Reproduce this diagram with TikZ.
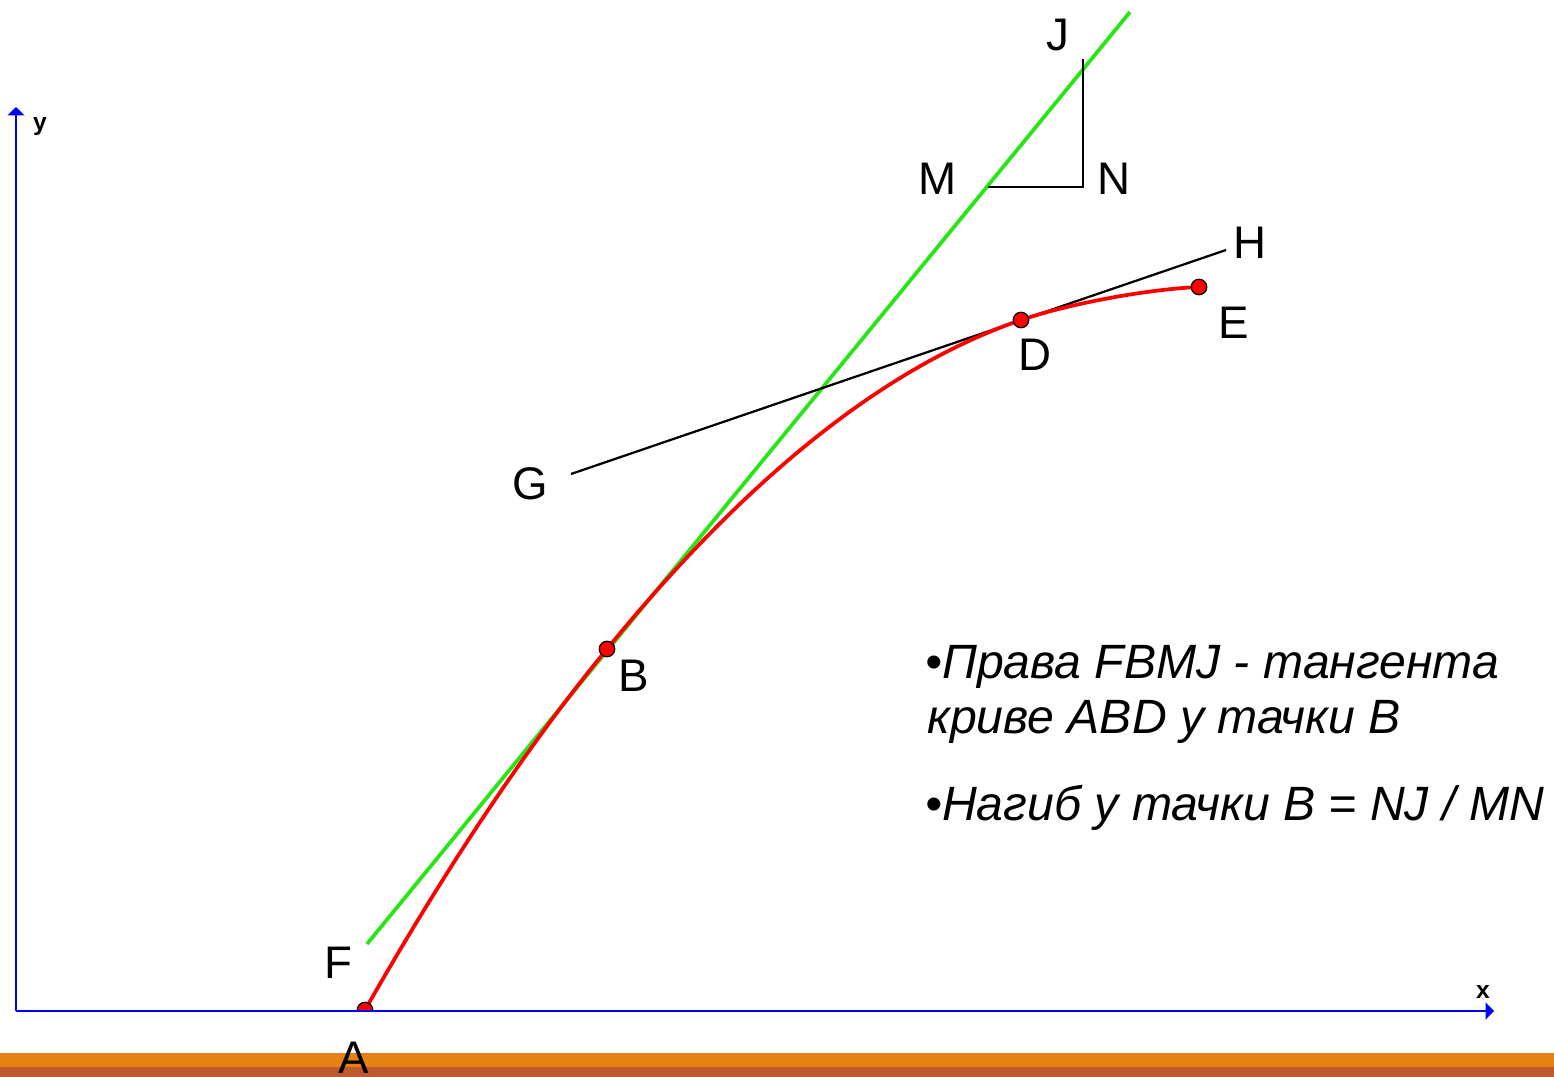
\documentclass[tikz,border=0pt]{standalone}
\usepackage{fontspec}
\setmainfont{Liberation Sans}
\usetikzlibrary{arrows.meta,positioning}
\definecolor{curvered}{RGB}{255,0,0}
\definecolor{tangentgreen}{RGB}{40,230,20}
\definecolor{axisblue}{RGB}{0,0,255}
\definecolor{barorange}{RGB}{228,131,20}
\definecolor{barbrown}{RGB}{190,90,45}

\begin{document}
\begin{tikzpicture}[
  x=0.2mm, y=-0.2mm,
  axis/.style={draw=axisblue, line width=0.5mm,
    -{Triangle[length=1.7mm, width=3.4mm]}},
  axislbl/.style={font=\fontsize{14}{16}\selectfont\bfseries, inner sep=0pt},
  curve/.style={draw=curvered, line width=0.75mm},
  tangent/.style={draw=tangentgreen, line width=0.75mm},
  thinline/.style={draw=black, line width=0.45mm},
  dot/.style={circle, draw=black, fill=curvered, line width=0.25mm,
    minimum size=3.1mm, inner sep=0pt},
  lbl/.style={font=\fontsize{26}{30}\selectfont, inner sep=0pt},
  note/.style={font=\fontsize{27.4}{31}\selectfont\itshape, inner sep=0pt,
    anchor=base west}
]
\useasboundingbox (0,0) rectangle (1554,1077);
% bottom bar
\fill[barorange] (0,1053) rectangle (1554,1067);
\fill[barbrown] (0,1067) rectangle (1554,1077);
% tangent lines and slope triangle
\coordinate (F) at (367,944);
\coordinate (Ttop) at (1130,12);
\coordinate (G) at (571,474);
\coordinate (H) at (1226,250);
\coordinate (M) at (988,187);
\coordinate (N) at (1083,187);
\coordinate (J) at (1083,59);
\draw[tangent] (F) -- (Ttop);
\draw[thinline] (G) -- (H);
\draw[thinline] (M) -- (N) -- (J);
% curve ABDE
\coordinate (Apt) at (365,1010);
\coordinate (Bpt) at (607,649);
\coordinate (Dpt) at (1021,320);
\coordinate (Ept) at (1199,287);
\draw[curve] (Apt) .. controls (447,866) and (528,745) .. (Bpt)
  .. controls (749,475) and (887,366) .. (Dpt)
  .. controls (1071,303) and (1150,289) .. (Ept);
\begin{scope}
  \clip (0,0) rectangle (1554,1011);
  \node[dot] (A) at (Apt) {};
\end{scope}
\node[dot] (B) at (Bpt) {};
\node[dot] (D) at (Dpt) {};
\node[dot] (E) at (Ept) {};
% axes
\coordinate (O) at (16,1011);
\coordinate (Xend) at (1494,1011);
\coordinate (Yend) at (16,107);
\draw[axis] (O) -- (Xend);
\draw[axis] (O) -- (Yend);
\node[axislbl] (xlbl) at (1483,992) {x};
\node[axislbl] (ylbl) at (40,127) {y};
% point labels
\node[lbl] (lblA) at (354,1058) {A};
\node[lbl] (lblB) at (634,676) {B};
\node[lbl] (lblD) at (1035,355) {D};
\node[lbl] (lblE) at (1234,323) {E};
\node[lbl] (lblF) at (338,963) {F};
\node[lbl] (lblG) at (530,484) {G};
\node[lbl] (lblH) at (1250,243) {H};
\node[lbl] (lblM) at (938,179) {M};
\node[lbl] (lblN) at (1114,179) {N};
\node[lbl] (lblJ) at (1058,35) {J};
% notes
\node[note] (tangentnote) at (925,678) {•Права FBMJ - тангента};
\node[note] (curvenote) at (927,733) {криве ABD у тачки B};
\node[note] (slopenote) at (925,820) {•Нагиб у тачки B = NJ / MN};
\end{tikzpicture}
\end{document}
